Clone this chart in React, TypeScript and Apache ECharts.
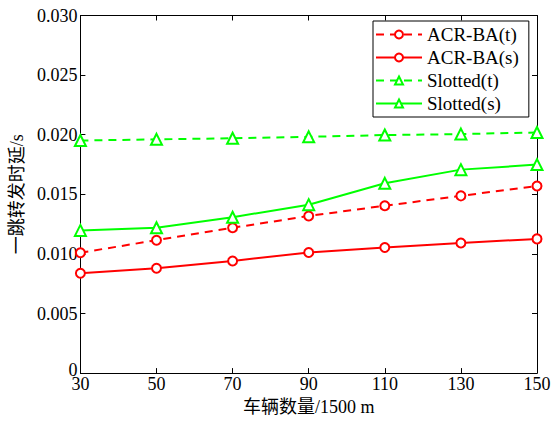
import React, { useEffect, useRef } from "react";
import * as echarts from "echarts";

const xValues = [30, 50, 70, 90, 110, 130, 150];
const acrT = [0.0101, 0.01115, 0.01219, 0.01318, 0.01404, 0.01487, 0.0157];
const acrS = [0.00838, 0.0088, 0.00941, 0.01012, 0.01054, 0.01092, 0.01126];
const slotT = [0.01951, 0.01961, 0.0197, 0.01982, 0.01997, 0.02005, 0.02019];
const slotS = [0.01197, 0.01219, 0.01308, 0.01413, 0.01592, 0.01707, 0.01749];
const seriesNames = ["ACR-BA(t)", "ACR-BA(s)", "Slotted(t)", "Slotted(s)"];
const xName = "车辆数量/1500 m";
const yName = "一跳转发时延/s";

const FONT = "'Liberation Serif', 'Noto Sans CJK SC', serif";
const RED = "#ff0000";
const GREEN = "#00ff00";

export default function App() {
  const ref = useRef<HTMLDivElement>(null);
  useEffect(() => {
    if (!ref.current) return;
    const chart = echarts.init(ref.current, undefined, { renderer: "svg" });
    const pair = (ys: number[]) => xValues.map((x, i) => [x, ys[i]]);
    const mk = (name: string, ys: number[], color: string, dashed: boolean, symbol: string) => ({
      name,
      type: "line",
      data: pair(ys),
      symbol,
      symbolSize: symbol === "circle" ? 9 : 11,
      showAllSymbol: true,
      lineStyle: { color, width: 2, type: dashed ? [8, 6] : "solid" },
      itemStyle: { color: "#fff", borderColor: color, borderWidth: 2 },
      emphasis: { disabled: true },
    });
    const axisCommon = {
      axisLine: { show: true, onZero: false, lineStyle: { color: "#000", width: 1 } },
      axisTick: { show: true, inside: true, length: 5, lineStyle: { color: "#000" } },
      splitLine: { show: false },
    };
    chart.setOption({
      animation: false,
      textStyle: { fontFamily: FONT },
      grid: { left: 77.5, right: 17, top: 15.5, bottom: 43, containLabel: false },
      legend: {
        orient: "vertical",
        left: 373,
        top: 21,
        data: seriesNames,
        backgroundColor: "#fff",
        borderColor: "#000",
        borderWidth: 1,
        borderRadius: 0,
        padding: [4, 10, 4, 2],
        itemWidth: 46,
        itemHeight: 10,
        itemGap: 4,
        textStyle: { fontFamily: FONT, fontSize: 19, color: "#000", lineHeight: 16 },
      },
      xAxis: [
        {
          type: "value",
          min: 30,
          max: 150,
          interval: 20,
          position: "bottom",
          name: xName,
          nameLocation: "middle",
          nameGap: 22,
          nameTextStyle: { fontFamily: FONT, fontSize: 18, color: "#000" },
          axisLabel: { margin: 5, fontSize: 18, lineHeight: 12, color: "#000", fontFamily: FONT },
          ...axisCommon,
        },
        {
          type: "value",
          min: 30,
          max: 150,
          interval: 20,
          position: "top",
          axisLabel: { show: false },
          ...axisCommon,
        },
      ],
      yAxis: [
        {
          type: "value",
          min: 0,
          max: 0.03,
          interval: 0.005,
          position: "left",
          name: yName,
          nameLocation: "middle",
          nameGap: 49,
          nameTextStyle: { fontFamily: FONT, fontSize: 18, color: "#000" },
          axisLabel: {
            margin: 3,
            fontSize: 18,
            lineHeight: 12,
            color: "#000",
            fontFamily: FONT,
            formatter: (v: number) => (Math.abs(v) < 1e-9 ? "{z|0}" : v.toFixed(3)),
            rich: {
              z: { fontSize: 18, lineHeight: 10, fontFamily: FONT, color: "#000", padding: [0, 0, 6, 0] },
            },
          },
          ...axisCommon,
        },
        {
          type: "value",
          min: 0,
          max: 0.03,
          interval: 0.005,
          position: "right",
          axisLabel: { show: false },
          ...axisCommon,
        },
      ],
      series: [
        mk(seriesNames[0], acrT, RED, true, "circle"),
        mk(seriesNames[1], acrS, RED, false, "circle"),
        mk(seriesNames[2], slotT, GREEN, true, "triangle"),
        mk(seriesNames[3], slotS, GREEN, false, "triangle"),
      ],
    });
    return () => chart.dispose();
  }, []);
  return <div ref={ref} style={{ width: 554, height: 421, position: "absolute", left: 0, top: 0, background: "#fff" }} />;
}
